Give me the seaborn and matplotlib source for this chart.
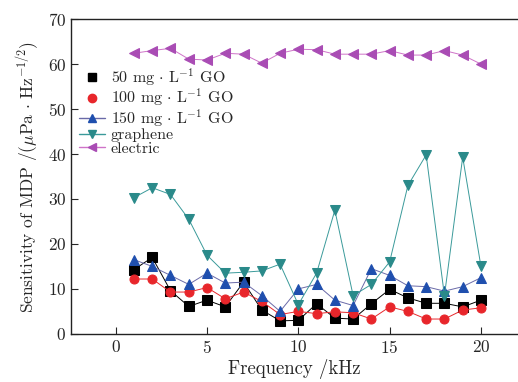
import numpy as np
import pandas as pd
import seaborn as sns
import matplotlib.pyplot as plt
from matplotlib.lines import Line2D

# Frequency points (kHz)
freq = list(range(1, 21))

# Sensitivity of MDP for each sensor
go_50 = [14.3, 17.0, 9.6, 6.1, 7.5, 6.0, 11.5, 5.3, 2.9, 3.0,
         6.7, 3.5, 3.3, 6.7, 9.9, 8.0, 6.8, 6.8, 6.0, 7.5]
go_100 = [12.2, 12.2, 9.3, 9.3, 10.3, 7.8, 9.3, 7.2, 4.3, 5.0,
          4.5, 4.9, 4.7, 3.3, 6.0, 5.0, 3.3, 3.3, 5.3, 5.8]
go_150 = [16.5, 15.0, 13.0, 11.0, 13.5, 11.3, 11.5, 8.5, 5.0, 10.0,
          11.0, 7.5, 6.3, 14.5, 13.0, 10.7, 10.5, 9.5, 10.5, 12.5]
graphene = [30.3, 32.5, 31.0, 25.5, 17.5, 13.5, 13.7, 14.0, 15.5, 6.5,
            13.5, 27.5, 8.5, 11.0, 16.0, 33.0, 39.8, 8.5, 39.3, 15.0]
electric = [62.4, 63.0, 63.5, 61.1, 60.9, 62.4, 62.2, 60.2, 62.4, 63.3,
            63.2, 62.2, 62.2, 62.2, 63.0, 62.0, 62.0, 63.0, 62.0, 60.0]

labels = [r'50 mg$\,\cdot\,$L$^{-1}$ GO', r'100 mg$\,\cdot\,$L$^{-1}$ GO',
          r'150 mg$\,\cdot\,$L$^{-1}$ GO', 'graphene', 'electric']

sns.set_style('ticks')
plt.rcParams['font.family'] = ['cmr10', 'DejaVu Serif']
plt.rcParams['mathtext.fontset'] = 'cm'
plt.rcParams['axes.formatter.use_mathtext'] = True

fig = plt.figure(figsize=(5.18, 3.82), dpi=100)
ax = fig.add_axes([0.137, 0.126, 0.862, 0.824])

series = [
    (go_50, 's', 'black', 'black'),
    (go_100, 'o', '#e8262b', '#e8262b'),
    (go_150, '^', '#1f4fae', '#6a6aa8'),
    (graphene, 'v', '#2a8a8a', '#3a9a9a'),
    (electric, '<', '#a94cb4', '#cf73c8'),
]

for vals, mk, mc, lc in series:
    sns.lineplot(x=freq, y=vals, ax=ax, color=lc, lw=0.7, marker=mk,
                 markersize=6.5, markerfacecolor=mc, markeredgecolor=mc)

ax.set_xlim(-2.45, 22)
ax.set_ylim(0, 70)
ax.set_xticks([0, 5, 10, 15, 20])
ax.set_yticks(range(0, 71, 10))
ax.tick_params(direction='in', labelsize=12.5, length=5, width=0.8)
ax.spines['right'].set_visible(False)
for s in ['left', 'bottom', 'top']:
    ax.spines[s].set_linewidth(1.0)
    ax.spines[s].set_color('#222222')

ax.set_xlabel('Frequency /kHz', fontsize=13.5, labelpad=2)
ax.set_ylabel(r'Sensitivity of MDP /($\mu$Pa$\,\cdot\,$Hz$^{-1/2}$)',
              fontsize=12.5, labelpad=4)

handles = []
for i, (vals, mk, mc, lc) in enumerate(series):
    ls = 'none' if i < 2 else '-'
    handles.append(Line2D([], [], color=lc, lw=1.0, ls=ls, marker=mk,
                          markersize=6, markerfacecolor=mc, markeredgecolor=mc))
ax.legend(handles, labels, loc='upper left', bbox_to_anchor=(0.0, 0.875),
          frameon=False, fontsize=11.5, borderpad=0, labelspacing=-0.05,
          handlelength=1.6, handletextpad=0.4)

fig.savefig('out.png', dpi=100)
